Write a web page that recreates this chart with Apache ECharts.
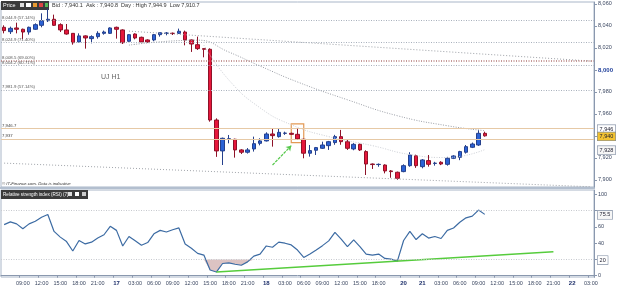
<!DOCTYPE html>
<html>
<head>
<meta charset="utf-8">
<script src="https://cdn.jsdelivr.net/npm/echarts@6/dist/echarts.min.js"></script>
<style>
  html, body { margin: 0; padding: 0; background: #fff; }
  #main { width: 625px; height: 288px; }
</style>
</head>
<body>
<div id="main"></div>
<script>
// one slot per hour, only every 3rd hour gets a label
const tickLabels = [
  '', '', '', '09:00', '', '', '12:00', '', '', '15:00', '', '',
  '18:00', '', '', '21:00', '', '', '17', '', '', '03:00', '', '',
  '06:00', '', '', '09:00', '', '', '12:00', '', '', '15:00', '', '',
  '18:00', '', '', '21:00', '', '', '18', '', '', '03:00', '', '',
  '06:00', '', '', '09:00', '', '', '12:00', '', '', '15:00', '', '',
  '18:00', '', '', '', '20', '', '', '21', '', '', '03:00', '',
  '', '06:00', '', '', '09:00', '', '', '12:00', '', '', '15:00', '',
  '', '18:00', '', '', '21:00', '', '', '22', '', '', '03:00'
];
const dayLabels = ['17', '18', '20', '21', '22'];

// [open, close, low, high]
const candles = [
  [8038.8, 8035.8, 8033.3, 8040.6], [8034.8, 8037.9, 8032.7, 8039.4], [8038.2, 8037.0, 8033.3, 8043.0],
  [8037.0, 8034.5, 8027.9, 8037.6], [8034.5, 8038.8, 8032.1, 8039.4], [8037.0, 8041.2, 8036.4, 8042.4],
  [8040.6, 8044.8, 8038.8, 8051.5], [8044.8, 8046.1, 8043.6, 8055.8], [8046.1, 8040.6, 8040.0, 8050.3],
  [8041.2, 8036.4, 8034.5, 8042.4], [8036.4, 8032.7, 8032.1, 8041.8], [8033.3, 8024.8, 8023.0, 8033.3],
  [8025.5, 8031.0, 8024.8, 8033.3], [8031.0, 8029.1, 8019.4, 8031.5], [8028.5, 8030.3, 8024.2, 8031.5],
  [8030.3, 8033.3, 8028.5, 8035.2], [8033.3, 8034.5, 8032.1, 8035.8], [8033.3, 8038.2, 8032.7, 8038.8],
  [8038.8, 8037.0, 8028.5, 8039.4], [8036.4, 8024.8, 8023.6, 8037.0], [8026.1, 8032.1, 8025.5, 8032.7],
  [8032.7, 8029.1, 8027.9, 8033.3], [8029.7, 8025.5, 8024.2, 8030.3], [8027.3, 8025.5, 8024.8, 8027.9],
  [8027.3, 8032.1, 8026.1, 8032.7], [8032.1, 8033.9, 8030.3, 8034.5], [8033.3, 8033.6, 8031.5, 8034.5],
  [8033.4, 8033.2, 8031.8, 8034.0], [8033.3, 8035.2, 8032.7, 8037.6], [8034.5, 8027.3, 8022.4, 8035.8],
  [8027.3, 8023.6, 8016.4, 8027.9], [8023.0, 8019.4, 8018.2, 8030.3], [8019.4, 8018.8, 8011.5, 8019.7],
  [8018.8, 7954.5, 7953.0, 8019.7], [7954.5, 7926.4, 7921.0, 7956.0], [7926.4, 7937.9, 7913.6, 7938.5],
  [7937.0, 7937.5, 7933.3, 7940.9], [7937.0, 7927.3, 7920.3, 7937.5], [7927.3, 7925.2, 7923.6, 7928.0],
  [7925.2, 7927.3, 7924.0, 7929.0], [7928.2, 7933.0, 7925.8, 7939.4], [7933.3, 7935.5, 7931.5, 7937.9],
  [7935.5, 7941.8, 7935.0, 7943.3], [7941.8, 7940.3, 7930.3, 7947.0], [7939.4, 7943.3, 7938.5, 7946.4],
  [7942.4, 7942.6, 7941.0, 7943.9], [7942.4, 7941.5, 7941.0, 7943.0], [7941.5, 7937.3, 7936.5, 7947.0],
  [7937.0, 7924.3, 7919.7, 7937.5], [7924.3, 7926.7, 7921.2, 7931.8], [7927.0, 7929.4, 7922.7, 7930.0],
  [7928.8, 7931.8, 7928.2, 7934.8], [7931.2, 7934.8, 7927.3, 7935.5], [7934.0, 7939.4, 7932.0, 7941.0],
  [7939.4, 7934.8, 7932.0, 7945.5], [7934.8, 7928.8, 7927.3, 7936.4], [7928.2, 7932.4, 7927.0, 7933.5],
  [7932.4, 7927.3, 7926.4, 7933.0], [7925.8, 7914.5, 7904.5, 7927.0], [7914.5, 7914.0, 7910.0, 7915.0],
  [7914.0, 7914.2, 7912.0, 7915.0], [7913.6, 7908.2, 7906.0, 7914.2], [7908.2, 7907.6, 7902.0, 7909.0],
  [7907.0, 7901.5, 7900.0, 7907.6], [7907.6, 7913.0, 7907.0, 7914.2], [7913.0, 7922.7, 7912.0, 7925.2],
  [7922.1, 7913.0, 7911.0, 7923.0], [7912.1, 7918.2, 7910.6, 7919.0], [7917.6, 7914.2, 7912.1, 7922.7],
  [7915.0, 7915.3, 7913.0, 7916.5], [7916.1, 7914.5, 7913.5, 7917.0], [7914.2, 7919.7, 7913.0, 7921.0],
  [7919.7, 7921.8, 7919.0, 7922.5], [7920.6, 7925.8, 7918.0, 7926.5], [7925.2, 7930.3, 7924.0, 7931.8],
  [7929.7, 7932.7, 7929.0, 7934.0], [7931.8, 7942.4, 7931.0, 7945.5], [7942.4, 7940.1, 7939.4, 7943.9]
];

const rsi = [
  62.9, 66.3, 63.8, 57.9, 63.8, 67.0, 72.0, 75.4, 54.5, 47.5, 42.0, 30.4, 43.3, 39.1, 41.3, 46.3,
  50.4, 60.8, 55.8, 36.6, 48.3, 42.9, 37.5, 40.8, 51.6, 55.8, 53.8, 56.6, 58.8, 39.1, 33.8, 27.5,
  25.4, 7.0, 4.5, 15.0, 15.8, 14.1, 12.9, 17.0, 24.1, 26.6, 36.6, 35.0, 41.3, 40.0, 37.9, 31.6,
  22.5, 26.6, 31.6, 37.0, 42.9, 53.3, 45.0, 35.8, 44.1, 35.8, 26.6, 25.4, 26.6, 21.3, 20.4, 17.9,
  43.3, 54.5, 44.5, 51.6, 46.3, 48.3, 45.8, 55.8, 58.8, 65.8, 71.2, 73.3, 80.8, 75.5
];

// overlay lines as [slot, price]
const trendUpper = [[20, 8035.3], [94, 8008.1]];
const trendLower = [[0, 7915.3], [94, 7893.8]];
const maSlow = [[20, 8022.6], [31, 8027.1], [36, 8016.3], [41, 8003.6], [47, 7989.1], [55, 7972.9], [63, 7958.4], [71, 7949.3], [77, 7944.8]];
const maFast = [[32, 8022.6], [36, 7990.9], [41, 7965.6], [46, 7950.2], [52, 7939.4], [59, 7931.2], [65, 7923.1], [71, 7920.4], [77, 7927.6]];
const rsiTrend = [[34, 4.5], [88, 29.4]];

const fibLevels = [
  { value: 8044.9, text: '8,044.9 (57.14%)' },
  { value: 8024.9, text: '8,024.9 (71.40%)' },
  { value: 8008.5, text: '8,008.5 (69.00%)', red: true },
  { value: 8004.2, text: '8,004.2 (60.71%)' },
  { value: 7981.9, text: '7,981.9 (57.14%)' }
];
const zoneLevels = [7946.7, 7937];
const lastPrice = 7940.1;
const maFastLast = 7927.6;

const priceTicks = [7900, 7920, 7960, 7980, 8000, 8020, 8040, 8060];
const rsiTicks = [0, 40, 60, 100];

const FONT = 'Liberation Sans, Arial, sans-serif';
const categories = tickLabels.map((t, i) => 'h' + i);
const fmt = (v) => v.toLocaleString('en-US');

const myChart = echarts.init(document.getElementById('main'), null, { renderer: 'canvas' });

const fibLines = fibLevels.map((f) => ({
  yAxis: f.value,
  lineStyle: {
    color: f.red ? '#b47a78' : '#a8b0bc',
    type: [1, 1.5],
    width: f.red ? 1.5 : 1
  },
  label: {
    show: true,
    position: 'insideStartTop',
    formatter: f.text,
    fontSize: 4.3,
    fontFamily: FONT,
    color: '#555',
    distance: 1
  }
}));

const zoneLines = zoneLevels.map((v) => ({
  yAxis: v,
  lineStyle: { color: '#e6c9a6', type: 'solid', width: 1 },
  label: {
    show: true,
    position: 'insideStartTop',
    formatter: fmt(v),
    fontSize: 4.3,
    fontFamily: FONT,
    color: '#444',
    distance: 1
  }
}));

const arrowLine = [
  {
    coord: [43, 7913.6], symbol: 'none',
    lineStyle: { color: '#55c84a', width: 1.2, type: [3, 1] },
    label: { show: false }
  },
  { coord: [46, 7931.2], symbol: 'arrow', symbolSize: 5 }
];

const option = {
  animation: false,
  backgroundColor: '#fff',
  grid: [
    { left: 1, right: 31, top: 2, height: 185, show: true, borderColor: '#a9b6c8', borderWidth: 1 },
    { left: 1, right: 31, top: 190, height: 87, show: true, borderColor: '#a9b6c8', borderWidth: 1 }
  ],
  xAxis: [
    {
      type: 'category', gridIndex: 0, data: categories, boundaryGap: true,
      axisLine: { show: false }, axisTick: { show: false }, axisLabel: { show: false },
      splitLine: { show: false }
    },
    {
      type: 'category', gridIndex: 1, data: categories, boundaryGap: true,
      axisLine: { lineStyle: { color: '#8a98ae' } },
      axisTick: {
        show: true, length: 2, lineStyle: { color: '#8a98ae' },
        interval: (i) => tickLabels[i] !== ''
      },
      axisLabel: {
        interval: 0, margin: 3, fontSize: 5.5, fontFamily: FONT, color: '#3a4660',
        hideOverlap: false,
        formatter: (v, i) => {
          const t = tickLabels[i];
          if (!t) return '';
          return dayLabels.includes(t) ? '{d|' + t + '}' : t;
        },
        rich: { d: { fontSize: 6, fontWeight: 'bold', color: '#1d2f6a', fontFamily: FONT } }
      },
      splitLine: { show: false }
    }
  ],
  yAxis: [
    {
      type: 'value', gridIndex: 0, position: 'right', min: 7893.6, max: 8061.8, scale: true,
      axisLine: { show: true, lineStyle: { color: '#8a98ae' } },
      axisTick: { show: true, length: 3, customValues: priceTicks.concat([7940]), lineStyle: { color: '#8a98ae' } },
      axisLabel: {
        customValues: priceTicks, margin: 4, fontSize: 5.5, fontFamily: FONT, color: '#3a4660',
        formatter: (v) => (v === 8000 ? '{b|' + fmt(v) + '}' : fmt(v)),
        rich: { b: { fontSize: 6, fontWeight: 'bold', color: '#1f3f9a', fontFamily: FONT } }
      },
      splitLine: { show: false }
    },
    {
      type: 'value', gridIndex: 1, position: 'right', min: -1.6, max: 105.5,
      axisLine: { show: true, lineStyle: { color: '#8a98ae' } },
      axisTick: { show: true, length: 3, customValues: [0, 20, 40, 60, 80, 100], lineStyle: { color: '#8a98ae' } },
      axisLabel: { customValues: rsiTicks, margin: 4, fontSize: 5.5, fontFamily: FONT, color: '#3a4660' },
      splitLine: { show: false }
    }
  ],
  series: [
    {
      type: 'line', xAxisIndex: 0, yAxisIndex: 0, data: trendLower, symbol: 'none', silent: true,
      lineStyle: { color: '#a0a4aa', width: 1, type: [1, 2] }
    },
    {
      type: 'line', xAxisIndex: 0, yAxisIndex: 0, data: trendUpper, symbol: 'none', silent: true,
      lineStyle: { color: '#9ea2a8', width: 1, type: [1, 2] }
    },
    {
      type: 'line', xAxisIndex: 0, yAxisIndex: 0, data: maSlow, symbol: 'none', smooth: true, silent: true,
      lineStyle: { color: '#9a9ea6', width: 1, type: [1, 1.5] }
    },
    {
      type: 'line', xAxisIndex: 0, yAxisIndex: 0, data: maFast, symbol: 'none', smooth: true, silent: true,
      lineStyle: { color: '#cdd0d6', width: 1, type: [1, 1.5] }
    },
    {
      type: 'candlestick', name: 'UJ H1', xAxisIndex: 0, yAxisIndex: 0, data: candles, barWidth: 4,
      itemStyle: {
        color: '#2a62d6', color0: '#e6173b',
        borderColor: '#26408c', borderColor0: '#8e1228', borderColorDoji: '#555', borderWidth: 1
      },
      markLine: {
        silent: true, symbol: 'none',
        data: fibLines.concat(zoneLines).concat([arrowLine])
      },
      markArea: {
        silent: true,
        itemStyle: { color: 'rgba(0,0,0,0)', borderColor: '#e39a55', borderWidth: 1.2 },
        data: [[{ xAxis: 46, yAxis: 7951 }, { xAxis: 48, yAxis: 7934 }]]
      }
    },
    {
      type: 'line', xAxisIndex: 1, yAxisIndex: 1, stack: 'os', data: rsi.map((v) => Math.min(v, 20)),
      symbol: 'none', silent: true, lineStyle: { opacity: 0 }
    },
    {
      type: 'line', xAxisIndex: 1, yAxisIndex: 1, stack: 'os', data: rsi.map((v) => 20 - Math.min(v, 20)),
      symbol: 'none', silent: true, lineStyle: { opacity: 0 }, areaStyle: { color: '#dcc3c3', opacity: 1 }
    },
    {
      type: 'line', name: 'RSI', xAxisIndex: 1, yAxisIndex: 1, data: rsi, symbol: 'none',
      lineStyle: { color: '#3c6ba3', width: 1.2 },
      markLine: {
        silent: true, symbol: 'none', label: { show: false },
        data: [
          { yAxis: 80, lineStyle: { color: '#c6c9ce', type: [1, 1.5], width: 1 } },
          { yAxis: 20, lineStyle: { color: '#c6c9ce', type: [1, 1.5], width: 1 } }
        ]
      }
    },
    {
      type: 'line', xAxisIndex: 1, yAxisIndex: 1, data: rsiTrend, symbol: 'none', silent: true,
      lineStyle: { color: '#56cc3c', width: 1.6 }
    }
  ],
  graphic: [
    { type: 'rect', left: 1, top: 1, shape: { width: 48, height: 9 }, style: { fill: '#3b3b3b' } },
    { type: 'text', left: 3, top: 2.5, style: { text: 'Price', fill: '#fff', font: '5.5px ' + FONT } },
    { type: 'rect', left: 20, top: 3, shape: { width: 4, height: 4 }, style: { fill: '#ddd' } },
    { type: 'rect', left: 26, top: 3, shape: { width: 5, height: 4 }, style: { fill: '#fff' } },
    { type: 'rect', left: 33, top: 3, shape: { width: 4, height: 4 }, style: { fill: '#e89a30' } },
    { type: 'rect', left: 39, top: 3, shape: { width: 4, height: 4 }, style: { fill: '#d44' } },
    { type: 'rect', left: 45, top: 3, shape: { width: 3, height: 4 }, style: { fill: '#5b5' } },
    { type: 'text', left: 52, top: 2.5, style: { text: 'Bid : 7,940.1  Ask : 7,940.8  Day : High 7,944.9  Low 7,910.7', fill: '#333', font: '5.5px ' + FONT } },
    { type: 'text', left: 101, top: 74, style: { text: 'UJ H1', fill: '#666', font: '7px ' + FONT } },
    { type: 'text', left: 2, top: 182, style: { text: '\u00a9 IT-Finance.com. Data is indicative', fill: '#333', font: 'italic 4.3px ' + FONT } },
    { type: 'rect', left: 0, top: 187, shape: { width: 595, height: 2 }, style: { fill: '#b3bfcf' } },
    { type: 'rect', left: 1, top: 190, shape: { width: 87, height: 9 }, style: { fill: '#3b3b3b' } },
    { type: 'text', left: 3, top: 192, style: { text: 'Relative strength index (RSI) (7)', fill: '#fff', font: '4.6px ' + FONT } },
    { type: 'rect', left: 68, top: 192, shape: { width: 4, height: 4 }, style: { fill: '#ddd' } },
    { type: 'rect', left: 75, top: 192, shape: { width: 4, height: 4 }, style: { fill: '#fff' } },
    { type: 'rect', left: 82, top: 192, shape: { width: 4, height: 4 }, style: { fill: '#ccc' } }
  ]
};

option && myChart.setOption(option);

// value boxes on the right axis, placed through the axis scales
const boxes = [
  { axis: 0, value: zoneLevels[0], text: '7,946', fill: '#fff' },
  { axis: 0, value: lastPrice, text: '7,940', fill: '#f2c230' },
  { axis: 0, value: maFastLast, text: '7,928', fill: '#f6f6f6' },
  { axis: 1, value: rsi[rsi.length - 1], text: rsi[rsi.length - 1].toFixed(1), fill: '#f6f6f6' },
  { axis: 1, value: 20, text: '20', fill: '#fff' }
];
const boxGraphics = boxes.map((b) => {
  const y = myChart.convertToPixel({ yAxisIndex: b.axis }, b.value);
  return {
    type: 'text', left: 597, top: y - 4, z: 100,
    style: {
      text: b.text, font: '5.5px ' + FONT, fill: '#223',
      backgroundColor: b.fill, borderColor: '#7d8aa0', borderWidth: 0.6, padding: [1, 2]
    }
  };
});
myChart.setOption({ graphic: option.graphic.concat(boxGraphics) });
</script>
</body>
</html>
